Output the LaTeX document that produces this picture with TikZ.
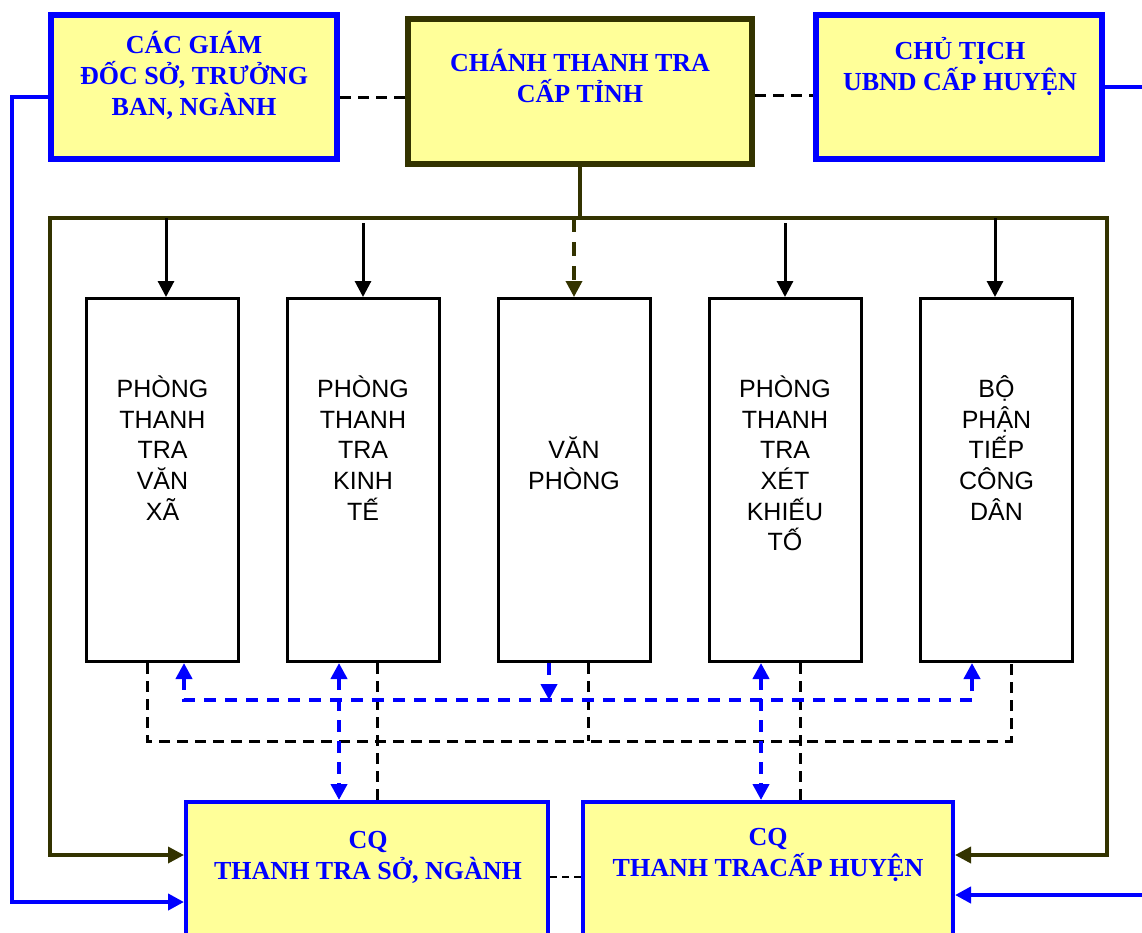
\documentclass[tikz,border=0pt]{standalone}
\usepackage{fontspec}
\setmainfont{Liberation Serif}
\newfontfamily\plainsans{Liberation Sans}
\usetikzlibrary{arrows.meta}
\definecolor{ybox}{HTML}{FFFF99}
\definecolor{olivec}{HTML}{333300}
\definecolor{bluec}{HTML}{0000FF}
\begin{document}
\begin{tikzpicture}[x=1pt,y=-1pt,
  endtri/.style={-{Triangle[length=16pt,width=16pt]}},
  bothtri/.style={{Triangle[length=16pt,width=16pt]}-{Triangle[length=16pt,width=16pt]}},
  topblue/.style={draw=bluec,line width=6pt,fill=ybox,inner sep=0pt,minimum width=286pt,minimum height=144pt},
  topolive/.style={draw=olivec,line width=6pt,fill=ybox,inner sep=0pt,minimum width=344pt,minimum height=145pt},
  tallbox/.style={draw=black,line width=3pt,fill=white,inner sep=0pt,minimum width=152pt,minimum height=363pt},
  botbox/.style={draw=bluec,line width=4pt,fill=ybox,inner sep=0pt,minimum height=200pt},
  bigtxt/.style={inner sep=0pt,align=center,text=bluec,font=\bfseries\fontsize{26}{31}\selectfont},
  talltxt/.style={inner sep=0pt,align=center,text=black,font=\plainsans\fontsize{25}{30.7}\selectfont},
  blk/.style={draw=black,line width=3pt},
  blkdash/.style={draw=black,line width=3pt,dash pattern=on 11pt off 7pt},
  oline/.style={draw=olivec,line width=3.5pt},
  bline/.style={draw=bluec,line width=4pt},
  bdash/.style={draw=bluec,line width=4pt,dash pattern=on 12pt off 9pt},
]
\useasboundingbox (0,0) rectangle (1142,932);
% top boxes
\node[topblue] (b1) at (194,87) {};
\node[topolive] (b2) at (580,91.5) {};
\node[topblue] (b3) at (959,87) {};
\node[bigtxt] (tx1) at (194,75) {CÁC GIÁM\\ĐỐC SỞ, TRƯỞNG\\BAN, NGÀNH};
\node[bigtxt] (tx2) at (580,76) {CHÁNH THANH TRA\\CẤP TỈNH};
\node[bigtxt] (tx3) at (960,66.5) {CHỦ TỊCH\\UBND CẤP HUYỆN};
% tall boxes
\node[tallbox] (t1) at (162.5,480) {};
\node[tallbox] (t2) at (363,480) {};
\node[tallbox] (t3) at (574,480) {};
\node[tallbox] (t4) at (785,480) {};
\node[tallbox] (t5) at (996.5,480) {};
\node[talltxt] (u1) at (162.5,448) {PHÒNG\\THANH\\TRA\\VĂN\\XÃ};
\node[talltxt] (u2) at (363,448) {PHÒNG\\THANH\\TRA\\KINH\\TẾ};
\node[talltxt] (u3) at (574,463.5) {VĂN\\PHÒNG};
\node[talltxt] (u4) at (785,463.5) {PHÒNG\\THANH\\TRA\\XÉT\\KHIẾU\\TỐ};
\node[talltxt] (u5) at (996.5,448) {BỘ\\PHẬN\\TIẾP\\CÔNG\\DÂN};
% bottom boxes
\node[botbox,minimum width=362pt] (c1) at (367,902) {};
\node[botbox,minimum width=370pt] (c2) at (768,902) {};
\node[bigtxt] (v1) at (368,857.5) {CQ\\THANH TRA SỞ, NGÀNH};
\node[bigtxt] (v2) at (768,855) {CQ\\THANH TRACẤP HUYỆN};
% coordinates
\coordinate (hl) at (50,218);
\coordinate (hr) at (1107,218);
\coordinate (rt) at (1150,87);
\coordinate (rb) at (1150,895);
% top dashed links
\draw[blkdash] ([yshift=-10pt]b1.east) -- ([yshift=-10pt]b1.east -| b2.west);
\draw[blkdash] ([yshift=-4pt]b2.east) -- ([yshift=-4pt]b2.east -| b3.west);
% blue outer lines
\draw[bline,endtri] ([yshift=-10pt]b1.west) -- ++(-36,0) |- (c1.west);
\draw[bline] (b3.east) -- (rt);
\draw[bline,endtri] (rb) -- ([yshift=7pt]c2.east);
% olive frame
\draw[oline] (b2.south) -- (b2.south |- hl);
\draw[oline,bothtri] ([yshift=47pt]c1.west) -| (hl) -- (hr) |- ([yshift=47pt]c2.east);
% down arrows
\draw[blk,endtri] ([xshift=3.5pt]t1.north |- hl) -- ([xshift=3.5pt]t1.north);
\draw[blk,endtri] ([yshift=-5pt]t2.north |- hl) -- (t2.north);
\draw[oline,dash pattern=on 14pt off 10pt,endtri] (t3.north |- hl) -- (t3.north);
\draw[blk,endtri] ([yshift=-5pt]t4.north |- hl) -- (t4.north);
\draw[blk,endtri] ([xshift=-1.5pt]t5.north |- hl) -- ([xshift=-1.5pt]t5.north);
% black dashed network
\draw[blkdash] ([xshift=-15.5pt]t1.south) -- ++(0,78) -| ([xshift=14.5pt]t5.south);
\draw[blkdash] ([xshift=14pt]t3.south) -- ++(0,78);
\draw[blkdash] ([xshift=14pt]t2.south) -- ([xshift=14pt]t2.south |- c1.north);
\draw[blkdash] ([xshift=15pt]t4.south) -- ([xshift=15pt]t4.south |- c2.north);
% blue dashed network
\draw[bdash,bothtri] ([xshift=21.5pt]t1.south) -- ++(0,37) -| ([xshift=-24.5pt]t5.south);
\draw[bdash,endtri] ([xshift=-25pt]t3.south) -- ++(0,37);
\draw[bdash,bothtri] ([xshift=-24pt]t2.south) -- ([xshift=-24pt]t2.south |- c1.north);
\draw[bdash,bothtri] ([xshift=-24pt]t4.south) -- ([xshift=-24pt]t4.south |- c2.north);
% bottom dashed link
\draw[draw=black,line width=2pt,dash pattern=on 7pt off 5pt] ([yshift=25pt]c1.east) -- ([yshift=25pt]c2.west);
\end{tikzpicture}
\end{document}
